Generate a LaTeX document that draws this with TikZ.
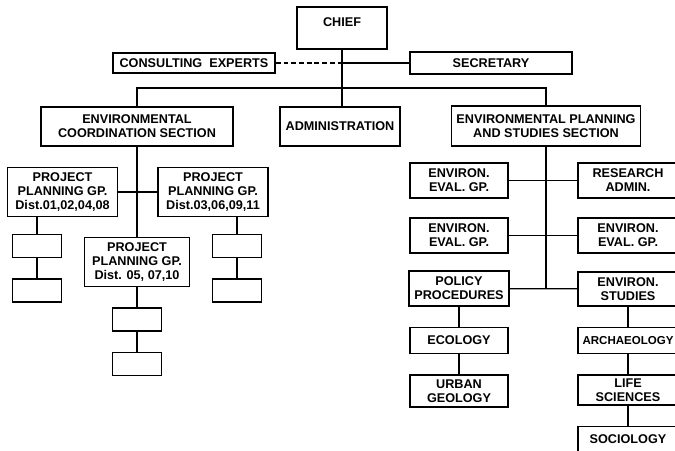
\documentclass[tikz,border=0pt]{standalone}
\usepackage{fontspec}
\setmainfont{Liberation Sans}
\usetikzlibrary{positioning}
\tikzset{
    auto,node distance =0.5 cm and 1 cm,
    box/.style ={rectangle, draw, line width=1.1pt, inner sep=1pt, align=center,
        font=\fontsize{9}{10}\selectfont\bfseries},
    blank/.style = {box, minimum width=1.225cm, minimum height=0.575cm},
    group/.style = {box, minimum width=2.75cm, minimum height=1.225cm},
    unit/.style = {box, minimum width=2.45cm, minimum height=0.875cm},
    side/.style = {box, minimum width=2.5cm, minimum height=0.875cm},
    link/.style = {line width=0.9pt},
    advisory/.style = {link, dash pattern=on 3.5pt off 2pt}
}

\begin{document}
\begin{tikzpicture}[x=0.025cm,y=-0.025cm]
        \useasboundingbox (0,0) rectangle (675,450);

        % top of the chart
        \node[box, minimum width=2.25cm, minimum height=1.05cm, text depth=0.3cm] (chief) at (342,28) {CHIEF};
        \node[box, minimum width=4.05cm, minimum height=0.5cm] (experts) at (194,63) {CONSULTING\ \ EXPERTS};
        \node[box, minimum width=4.05cm, minimum height=0.55cm] (secretary) at (491,63) {SECRETARY};
        \node[box, minimum width=4.8cm, minimum height=0.975cm] (coord) at (137,126.5) {ENVIRONMENTAL\\COORDINATION SECTION};
        \node[box, minimum width=3cm, minimum height=0.975cm] (admin) at (340,126.5) {ADMINISTRATION};
        \node[box, minimum width=4.725cm, minimum height=1cm] (planning) at (546,126) {ENVIRONMENTAL PLANNING\\AND STUDIES SECTION};

        % coordination section
        \node[group] (ppg1) at (62.5,192) {PROJECT\\PLANNING GP.\\Dist.01,02,04,08};
        \node[group] (ppg2) at (213,192) {PROJECT\\PLANNING GP.\\Dist.03,06,09,11};
        \node[group, minimum width=2.625cm] (ppg3) at (137,262) {PROJECT\\PLANNING GP.\\Dist. 05, 07,10};
        \node[blank] (a1) at (37,246) {};
        \node[blank] (a2) [below =of a1] {};
        \node[blank] (b1) at (237,246) {};
        \node[blank] (b2) [below =of b1] {};
        \node[blank] (c1) [below =of ppg3] {};
        \node[blank] (c2) [below =of c1] {};

        % planning and studies section
        \node[unit] (eval1) at (459,180.5) {ENVIRON.\\EVAL. GP.};
        \node[side] (research) at (628,180.5) {RESEARCH\\ADMIN.};
        \node[unit] (eval2) at (459,235.5) {ENVIRON.\\EVAL. GP.};
        \node[side] (eval3) at (628,235.5) {ENVIRON.\\EVAL. GP.};
        \node[unit, minimum width=2.5cm] (policy) at (459,288.5) {POLICY\\PROCEDURES};
        \node[side, minimum height=0.85cm] (studies) at (628,289) {ENVIRON.\\STUDIES};
        \node[unit, minimum height=0.65cm] (ecology) [below =of policy] {ECOLOGY};
        \node[unit, minimum height=0.8cm] (urban) [below =of ecology] {URBAN\\GEOLOGY};
        \node[side, minimum height=0.65cm, font=\fontsize{8.2}{10}\selectfont\bfseries] (archaeo) [below =of studies] {ARCHAEOLOGY};
        \node[side, minimum height=0.75cm] (life) [below =of archaeo] {LIFE\\SCIENCES};
        \node[side, minimum height=0.625cm] (socio) [below =of life] {SOCIOLOGY};

        \coordinate (tap) at (chief.south |- experts.east);
        \coordinate (bus) at (342,88);

        \draw[link] (chief.south) -- (chief.south |- admin.north);
        \draw[advisory] (experts.east) -- (tap);
        \draw[link] (tap) -- (secretary.west);
        \draw[link] (coord.north) |- (bus) -| (planning.north);

        \draw[link] (coord.south) -- (ppg3.north);
        \draw[link] (ppg1.east) -- (ppg2.west);
        \draw[link] (ppg1.south -| a1.north) -- (a1.north);
        \draw[link] (a1) -- (a2);
        \draw[link] (ppg2.south -| b1.north) -- (b1.north);
        \draw[link] (b1) -- (b2);
        \draw[link] (ppg3) -- (c1);
        \draw[link] (c1) -- (c2);

        \draw[link] (planning.south) -- (planning.south |- policy.east);
        \draw[link] (eval1) -- (research);
        \draw[link] (eval2) -- (eval3);
        \draw[link] (policy) -- (studies);
        \draw[link] (policy) -- (ecology);
        \draw[link] (ecology) -- (urban);
        \draw[link] (studies) -- (archaeo);
        \draw[link] (archaeo) -- (life);
        \draw[link] (life) -- (socio);
    \end{tikzpicture}
\end{document}
